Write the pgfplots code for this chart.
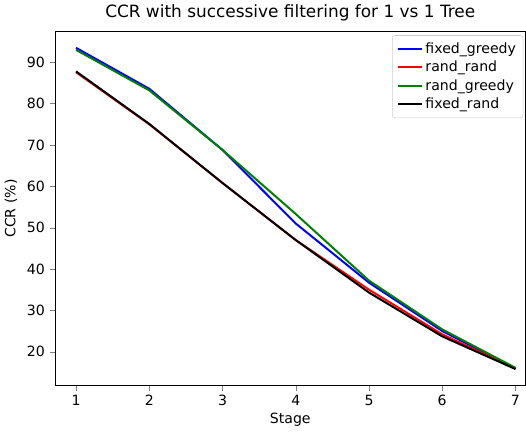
\documentclass[border=0pt]{standalone}
\usepackage{pgfplots}
\pgfplotsset{compat=1.18}
\usepackage{fontspec}
\setmainfont{DejaVu Sans}
\definecolor{mplgreen}{rgb}{0,0.5,0}
\begin{document}
\begin{tikzpicture}
\begin{axis}[
  scale only axis,
  width=334pt, height=251pt,
  xmin=0.71, xmax=7.14,
  ymin=11.8, ymax=97.4,
  xtick={1,2,3,4,5,6,7},
  ytick={20,30,40,50,60,70,80,90},
  tick align=outside,
  tick pos=left,
  major tick length=3.5pt,
  /pgf/number format/assume math mode=true,
  tick label style={font=\fontsize{10}{12}\selectfont},
  label style={font=\fontsize{10}{12}\selectfont},
  xlabel={Stage},
  xlabel style={yshift=2pt},
  ylabel={CCR (\%)},
  title={CCR with successive filtering for 1 vs 1 Tree},
  title style={font=\fontsize{12}{14}\selectfont, yshift=-2pt},
  legend cell align=left,
  legend style={font=\fontsize{10}{12}\selectfont, draw=black!20, rounded corners=2pt, at={(0.995,0.99)}, anchor=north east, row sep=0pt, inner sep=3pt},
  legend image post style={line width=1.4pt},
  every axis plot/.append style={line width=1.4pt},
]
\addplot[blue] coordinates {(1,93.5) (2,83.6) (3,68.8) (4,51.0) (5,36.7) (6,25.0) (7,15.9)};
\addlegendentry{fixed\_greedy}
\addplot[red] coordinates {(1,87.6) (2,75.0) (3,60.8) (4,47.0) (5,35.0) (6,24.2) (7,15.9)};
\addlegendentry{rand\_rand}
\addplot[mplgreen] coordinates {(1,93.0) (2,83.2) (3,68.8) (4,53.3) (5,37.2) (6,25.4) (7,16.1)};
\addlegendentry{rand\_greedy}
\addplot[black] coordinates {(1,87.8) (2,75.1) (3,60.8) (4,47.0) (5,34.3) (6,23.7) (7,15.8)};
\addlegendentry{fixed\_rand}
\end{axis}
\end{tikzpicture}
\end{document}
